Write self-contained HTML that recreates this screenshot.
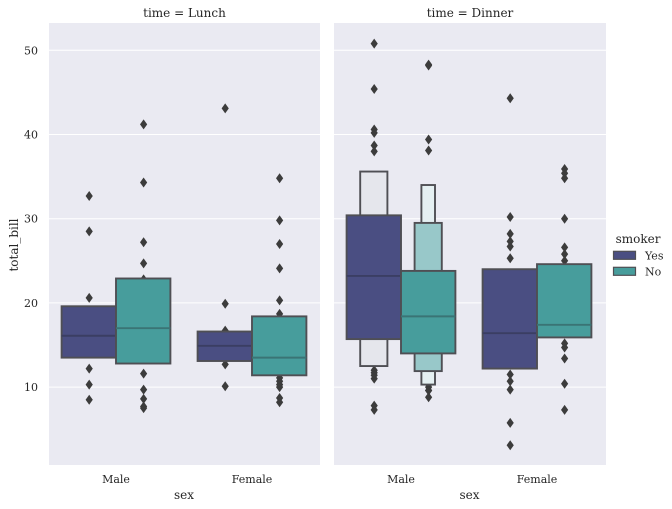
<!DOCTYPE html>
<html>
<head>
<meta charset="utf-8">
<style>
html,body{margin:0;padding:0;background:#fff;width:672px;height:509px;overflow:hidden}
svg{display:block}
text{font-family:"DejaVu Serif","Liberation Serif",serif;fill:#262626}
</style>
</head>
<body>
<svg id="chart" width="672" height="509" viewBox="0 0 672 509" xmlns="http://www.w3.org/2000/svg"></svg>
<script>
const panels = ['Lunch', 'Dinner'];
const categories = ['Male', 'Female'];
const hues = ['Yes', 'No'];
const yTicks = [10, 20, 30, 40, 50];

// Letter-value boxes: [low, high] per depth, widest first.
const lunchMaleYesLevels = [[13.5, 19.6]];
const lunchMaleNoLevels = [[12.8, 22.9]];
const lunchFemaleYesLevels = [[13.1, 16.6]];
const lunchFemaleNoLevels = [[11.4, 18.4]];
const dinnerMaleYesLevels = [[15.7, 30.4], [12.5, 35.6]];
const dinnerMaleNoLevels = [[14.0, 23.8], [11.9, 29.5], [10.3, 34.0]];
const dinnerFemaleYesLevels = [[12.2, 24.0]];
const dinnerFemaleNoLevels = [[15.9, 24.6]];

const lunchMaleYesMedian = 16.1;
const lunchMaleNoMedian = 17.0;
const lunchFemaleYesMedian = 14.9;
const lunchFemaleNoMedian = 13.5;
const dinnerMaleYesMedian = 23.2;
const dinnerMaleNoMedian = 18.4;
const dinnerFemaleYesMedian = 16.4;
const dinnerFemaleNoMedian = 17.4;

const lunchMaleYesOutliers = [32.7, 28.5, 20.6, 12.2, 10.3, 8.5];
const lunchMaleNoOutliers = [41.2, 34.3, 27.2, 24.7, 22.8, 11.6, 9.7, 8.6, 7.7, 7.5];
const lunchFemaleYesOutliers = [43.1, 19.9, 16.7, 12.7, 10.1];
const lunchFemaleNoOutliers = [34.8, 29.8, 27.0, 24.1, 20.3, 18.7, 11.1, 10.7, 10.3, 10.0, 8.7, 8.2];
const dinnerMaleYesOutliers = [50.8, 45.4, 40.6, 40.2, 38.7, 38.0, 12.0, 11.7, 11.4, 11.0, 7.8, 7.3];
const dinnerMaleNoOutliers = [48.3, 48.2, 39.4, 38.1, 10.3, 10.0, 9.6, 9.6, 8.8];
const dinnerFemaleYesOutliers = [44.3, 30.2, 28.2, 27.3, 26.7, 25.3, 11.5, 10.7, 9.7, 5.75, 3.1];
const dinnerFemaleNoOutliers = [35.9, 35.4, 34.8, 30.0, 26.6, 25.8, 25.0, 15.2, 14.7, 13.4, 10.4, 7.3];

const groups = [
  {panel: 0, cat: 0, hue: 0, levels: lunchMaleYesLevels, median: lunchMaleYesMedian, outliers: lunchMaleYesOutliers},
  {panel: 0, cat: 0, hue: 1, levels: lunchMaleNoLevels, median: lunchMaleNoMedian, outliers: lunchMaleNoOutliers},
  {panel: 0, cat: 1, hue: 0, levels: lunchFemaleYesLevels, median: lunchFemaleYesMedian, outliers: lunchFemaleYesOutliers},
  {panel: 0, cat: 1, hue: 1, levels: lunchFemaleNoLevels, median: lunchFemaleNoMedian, outliers: lunchFemaleNoOutliers},
  {panel: 1, cat: 0, hue: 0, levels: dinnerMaleYesLevels, median: dinnerMaleYesMedian, outliers: dinnerMaleYesOutliers},
  {panel: 1, cat: 0, hue: 1, levels: dinnerMaleNoLevels, median: dinnerMaleNoMedian, outliers: dinnerMaleNoOutliers},
  {panel: 1, cat: 1, hue: 0, levels: dinnerFemaleYesLevels, median: dinnerFemaleYesMedian, outliers: dinnerFemaleYesOutliers},
  {panel: 1, cat: 1, hue: 1, levels: dinnerFemaleNoLevels, median: dinnerFemaleNoMedian, outliers: dinnerFemaleNoOutliers}
];

const svg = document.getElementById('chart');
const NS = 'http://www.w3.org/2000/svg';

function make(tag, attrs, parent) {
  const el = document.createElementNS(NS, tag);
  for (const k in attrs) el.setAttribute(k, attrs[k]);
  (parent || svg).appendChild(el);
  return el;
}
function yScale(v) { return 50.3 + (50 - v) * 8.42; }
function panelLeft(p) { return p === 0 ? 49 : 334; }
function panelWidth(p) { return p === 0 ? 271 : 272; }
function catCenter(p, c) { return panelLeft(p) + 67 + c * 136; }
function hueCenter(p, c, h) { return catCenter(p, c) + (h - 0.5) * 54.4; }
function levelFill(h, depth) {
  const yes = ['#4a4e82', '#e5e6ec'];
  const no = ['#479d9c', '#98c8c9', '#e5f0f2'];
  const ramp = h === 0 ? yes : no;
  return ramp[Math.min(depth, ramp.length - 1)];
}
function slug(s) { return s.toLowerCase(); }

panels.forEach(function (name, p) {
  const left = panelLeft(p), w = panelWidth(p);

  const bg = make('rect', {x: left, y: 23, width: w, height: 442, fill: '#eaeaf2'});
  
  

  yTicks.forEach(function (t) {
    const line = make('line', {x1: left, x2: left + w, y1: yScale(t), y2: yScale(t), stroke: '#fff', 'stroke-width': 1});
    
    
  });

  const title = make('text', {x: left + w / 2, y: 17, 'text-anchor': 'middle', 'font-size': 12});
  title.textContent = 'time = ' + name;
  
  

  categories.forEach(function (cat, c) {
    const lab = make('text', {x: catCenter(p, c), y: 483, 'text-anchor': 'middle', 'font-size': 11});
    lab.textContent = cat;
    
    
  });

  const xt = make('text', {x: left + w / 2 - 0.5, y: 499, 'text-anchor': 'middle', 'font-size': 12});
  xt.textContent = 'sex';
  
  
});

yTicks.forEach(function (t) {
  const lab = make('text', {x: 38, y: yScale(t) + 4, 'text-anchor': 'end', 'font-size': 11});
  lab.textContent = t;
  
  
});

const yTitle = make('text', {x: 18, y: 245, 'text-anchor': 'middle', 'font-size': 12, transform: 'rotate(-90 18 245)'});
yTitle.textContent = 'total_bill';



// Outliers go down first so boxes partially cover them.
groups.forEach(function (g) {
  const cx = hueCenter(g.panel, g.cat, g.hue) + 0.4;
  g.outliers.forEach(function (v) {
    const cy = yScale(v);
    const d = make('polygon', {
      points: (cx - 3.6) + ',' + cy + ' ' + cx + ',' + (cy - 5) + ' ' + (cx + 3.6) + ',' + cy + ' ' + cx + ',' + (cy + 5),
      fill: '#3c3c3c'
    });
    
    
  });
});

groups.forEach(function (g) {
  const cx = hueCenter(g.panel, g.cat, g.hue);
  const key = slug(panels[g.panel]) + '-' + slug(categories[g.cat]) + '-' + slug(hues[g.hue]);
  for (let i = g.levels.length - 1; i >= 0; i--) {
    const lv = g.levels[i];
    const width = 54.4 / Math.pow(2, i);
    const r = make('rect', {
      x: cx - width / 2, y: yScale(lv[1]), width: width, height: yScale(lv[0]) - yScale(lv[1]),
      fill: levelFill(g.hue, i), stroke: '#4f4f54', 'stroke-width': 1.9
    });
    
    
  }
  const med = make('line', {
    x1: cx - 27.2, x2: cx + 27.2, y1: yScale(g.median), y2: yScale(g.median),
    stroke: g.hue === 0 ? '#3b3e63' : '#3a7475', 'stroke-width': 1.9
  });
  
  
});

const legendTitle = make('text', {x: 638, y: 243, 'text-anchor': 'middle', 'font-size': 12});
legendTitle.textContent = 'smoker';



hues.forEach(function (h, i) {
  const top = 251.3 + i * 16;
  const sw = make('rect', {x: 613.5, y: top, width: 22, height: 8, fill: levelFill(i, 0), stroke: '#4f4f54', 'stroke-width': 1.2});
  
  
  const t = make('text', {x: 645, y: top + 8, 'font-size': 11});
  t.textContent = h;
  
  
});
</script>
</body>
</html>
